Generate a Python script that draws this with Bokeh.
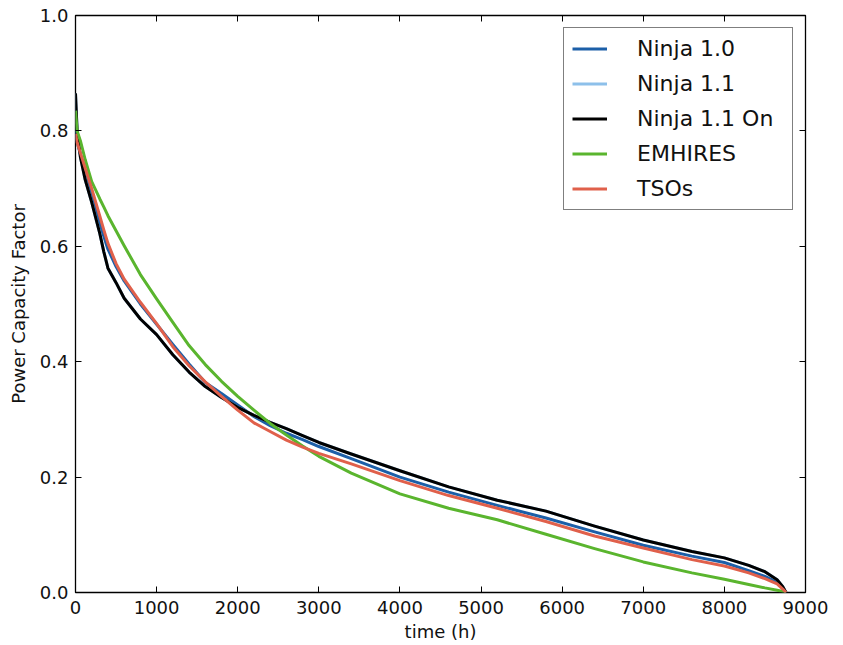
from bokeh.plotting import figure
from bokeh.models import Range1d, LinearAxis, FixedTicker, PrintfTickFormatter, CustomJSTickFormatter
from bokeh.embed import file_html
from bokeh.resources import INLINE

hours = [0, 20, 60, 120, 200, 300, 350, 400, 500, 600, 800, 1000, 1200, 1400, 1600, 1800,
         2000, 2200, 2400, 2600, 2800, 3000, 3400, 4000, 4600, 5200, 5800, 6400, 7000,
         7600, 8000, 8300, 8500, 8650, 8720, 8760]

ninja10 = [0.800, 0.780, 0.760, 0.730, 0.690, 0.640, 0.617, 0.595, 0.565, 0.540, 0.500, 0.465,
           0.430, 0.396, 0.364, 0.345, 0.325, 0.305, 0.289, 0.276, 0.265, 0.253, 0.232, 0.200,
           0.174, 0.151, 0.129, 0.105, 0.082, 0.063, 0.052, 0.038, 0.028, 0.018, 0.008, 0.000]

ninja11 = [0.865, 0.800, 0.755, 0.715, 0.676, 0.622, 0.590, 0.562, 0.537, 0.510, 0.474, 0.447,
           0.412, 0.382, 0.357, 0.338, 0.321, 0.307, 0.295, 0.284, 0.272, 0.260, 0.240, 0.211,
           0.183, 0.160, 0.141, 0.115, 0.091, 0.071, 0.060, 0.047, 0.036, 0.022, 0.010, 0.000]

ninja11_on = [0.865, 0.800, 0.755, 0.715, 0.676, 0.622, 0.590, 0.562, 0.537, 0.510, 0.474, 0.447,
              0.412, 0.382, 0.357, 0.338, 0.321, 0.307, 0.295, 0.284, 0.272, 0.260, 0.240, 0.211,
              0.183, 0.160, 0.141, 0.115, 0.091, 0.071, 0.060, 0.047, 0.036, 0.022, 0.010, 0.000]

emhires = [0.835, 0.800, 0.783, 0.750, 0.712, 0.682, 0.668, 0.653, 0.627, 0.601, 0.551, 0.509,
           0.468, 0.428, 0.395, 0.366, 0.340, 0.316, 0.293, 0.273, 0.254, 0.236, 0.207, 0.171,
           0.146, 0.126, 0.101, 0.076, 0.053, 0.034, 0.023, 0.014, 0.008, 0.004, 0.002, 0.000]

tsos = [0.795, 0.780, 0.762, 0.735, 0.700, 0.652, 0.628, 0.605, 0.570, 0.543, 0.503, 0.466,
        0.426, 0.393, 0.365, 0.340, 0.316, 0.294, 0.279, 0.264, 0.252, 0.241, 0.223, 0.194,
        0.168, 0.146, 0.123, 0.098, 0.077, 0.057, 0.046, 0.034, 0.024, 0.015, 0.006, 0.000]

series = [
    ("Ninja 1.0", ninja10, "#1c5fa8"),
    ("Ninja 1.1", ninja11, "#8dc0ea"),
    ("Ninja 1.1 On", ninja11_on, "#000000"),
    ("EMHIRES", emhires, "#5ab52e"),
    ("TSOs", tsos, "#e0604b"),
]

x_ticks = [0, 1000, 2000, 3000, 4000, 5000, 6000, 7000, 8000, 9000]
y_ticks = [0.0, 0.2, 0.4, 0.6, 0.8, 1.0]

FONT = "DejaVu Sans"

p = figure(width=843, height=645, output_backend="svg", toolbar_location=None,
           x_range=Range1d(0, 9000), y_range=Range1d(0, 1),
           x_axis_label="time (h)", y_axis_label="Power Capacity Factor",
           min_border_left=75, min_border_right=38, min_border_top=15, min_border_bottom=53)
p.background_fill_color = "white"
p.border_fill_color = "white"
p.outline_line_color = "black"
p.outline_line_width = 1.3
p.xgrid.visible = False
p.ygrid.visible = False

def style_axis(ax, ticks):
    ax.ticker = FixedTicker(ticks=ticks)
    ax.minor_tick_line_color = None
    ax.major_tick_in = 6
    ax.major_tick_out = 0
    ax.major_tick_line_color = "black"
    ax.major_tick_line_width = 1
    ax.axis_line_color = None
    ax.major_label_text_font = FONT
    ax.major_label_text_font_size = "18px"
    ax.major_label_text_color = "#111111"
    ax.axis_label_text_font = FONT
    ax.axis_label_text_font_size = "18px"
    ax.axis_label_text_font_style = "normal"
    ax.axis_label_text_color = "#111111"

style_axis(p.xaxis[0], x_ticks)
style_axis(p.yaxis[0], y_ticks)
p.yaxis[0].formatter = PrintfTickFormatter(format="%.1f")
p.xaxis[0].major_label_standoff = 8
p.yaxis[0].major_label_standoff = 7
p.xaxis[0].axis_label_standoff = 4
p.yaxis[0].axis_label_standoff = 8

top = LinearAxis(formatter=CustomJSTickFormatter(code="return ''"))
style_axis(top, x_ticks)
top.major_label_standoff = 0
right = LinearAxis(formatter=CustomJSTickFormatter(code="return ''"))
style_axis(right, y_ticks)
right.major_label_standoff = 0
p.add_layout(top, "above")
p.add_layout(right, "right")

for name, vals, color in series:
    p.line(hours, vals, line_color=color, line_width=3, line_join="round",
           legend_label=name)

lg = p.legend[0]
lg.location = "top_right"
lg.margin = 12
lg.padding = 8
lg.spacing = 10
lg.label_height = 25
lg.glyph_height = 25
lg.glyph_width = 35
lg.label_standoff = 30
lg.label_width = 147
lg.label_text_font = FONT
lg.label_text_font_size = "22px"
lg.label_text_color = "#111111"
lg.border_line_color = "black"
lg.border_line_width = 1.3
lg.background_fill_color = "white"
lg.background_fill_alpha = 1.0

open("out.html", "w").write(file_html(p, INLINE))
